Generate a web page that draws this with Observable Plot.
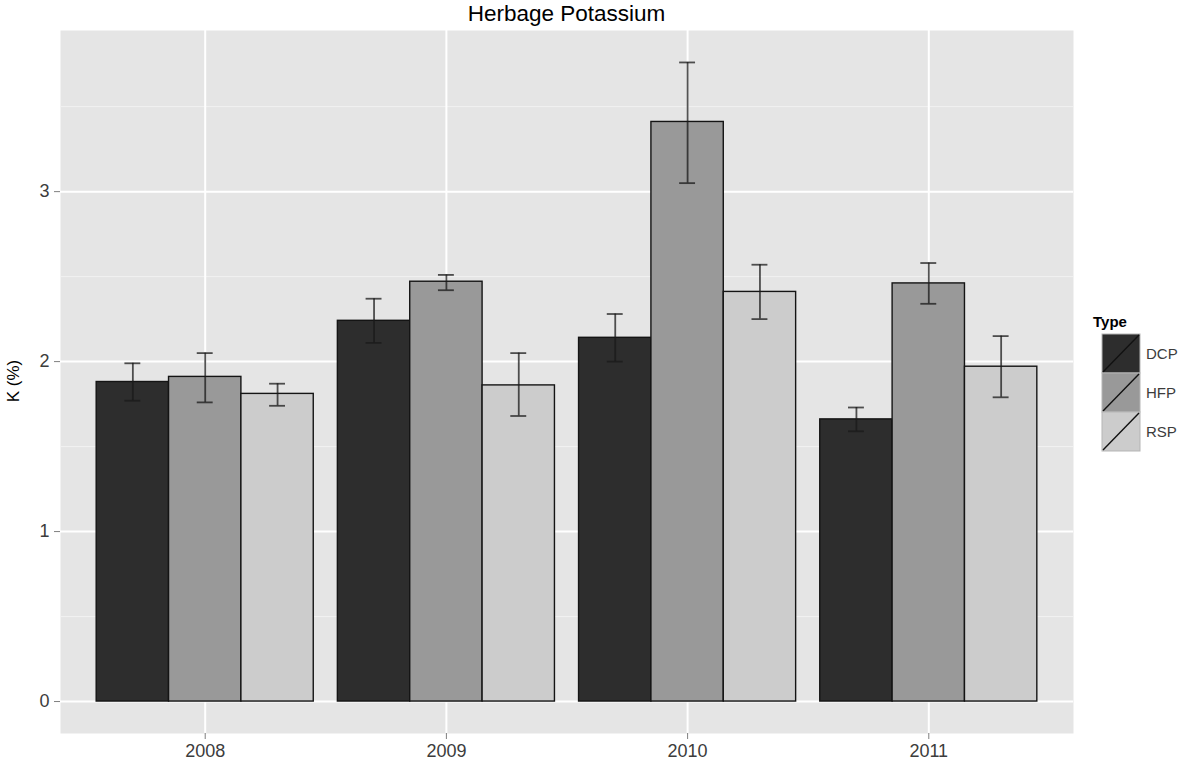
<!DOCTYPE html>
<html>
<head>
<meta charset="utf-8">
<script src="https://cdn.jsdelivr.net/npm/d3@7"></script>
<script src="https://cdn.jsdelivr.net/npm/@observablehq/plot@0.6"></script>
<style>
  body { margin: 0; background: #fff; font-family: "Liberation Sans", Arial, sans-serif; }
  #wrap { position: relative; width: 1188px; height: 769px; }
  #title { position: absolute; left: 60px; width: 1013px; top: 0; height: 30px; text-align: center;
           font-size: 22.5px; line-height: 28px; color: #000; z-index: 2; }
  #ylab { position: absolute; left: 14px; top: 381px; transform: translate(-50%, -50%) rotate(-90deg);
          font-size: 17px; color: #000; white-space: nowrap; z-index: 2; }
  #legend { position: absolute; left: 1088px; top: 305px; z-index: 2; }
  #chart { position: absolute; left: 0; top: 0; }
</style>
</head>
<body>
<div id="wrap">
  <div id="title">Herbage Potassium</div>
  <div id="ylab">K (%)</div>
  <div id="chart"></div>
  <svg id="legend" width="100" height="160"></svg>
</div>
<script>
// Sampling years and pasture types
const years = [2008, 2009, 2010, 2011];
const types = ["DCP", "HFP", "RSP"];

// Mean herbage potassium (%) per year, one array per type
const meanDCP = [1.88, 2.24, 2.14, 1.66];
const meanHFP = [1.91, 2.47, 3.41, 2.46];
const meanRSP = [1.81, 1.86, 2.41, 1.97];

// Error bar limits (lower / upper)
const lowDCP = [1.77, 2.11, 2.00, 1.59];
const highDCP = [1.99, 2.37, 2.28, 1.73];
const lowHFP = [1.76, 2.42, 3.05, 2.34];
const highHFP = [2.05, 2.51, 3.76, 2.58];
const lowRSP = [1.74, 1.68, 2.25, 1.79];
const highRSP = [1.87, 2.05, 2.57, 2.15];

const yTicks = [0, 1, 2, 3];
const yMinor = [0.5, 1.5, 2.5, 3.5];

const fillColors = ["#2d2d2d", "#999999", "#cccccc"];

const series = {
  DCP: {mean: meanDCP, lo: lowDCP, hi: highDCP},
  HFP: {mean: meanHFP, lo: lowHFP, hi: highHFP},
  RSP: {mean: meanRSP, lo: lowRSP, hi: highRSP}
};

// Long table: one row per year × type, with a dodge slot
const rows = years.flatMap((year, i) =>
  types.map((type, slot) => ({
    year, type, slot,
    mean: series[type].mean[i],
    lo: series[type].lo[i],
    hi: series[type].hi[i]
  }))
);

// Dodged positions in year units (bar width 0.3, caps 0.066 wide)
const barW = 0.3;
const center = d => d.year + (d.slot - 1) * barW;
const capHalf = 0.033;

const plot = Plot.plot({
  width: 1188,
  height: 769,
  marginLeft: 60,
  marginRight: 115,
  marginTop: 30,
  marginBottom: 36,
  style: {fontFamily: "Liberation Sans, Arial, sans-serif", background: "transparent"},
  x: {domain: [2007.4, 2011.6], label: null},
  y: {domain: [-0.188, 3.948], label: null},
  color: {domain: types, range: fillColors},
  marks: [
    Plot.frame({fill: "#e5e5e5", stroke: "none"}),
    Plot.ruleY(yMinor, {stroke: "#f2f2f2", strokeWidth: 1}),
    Plot.ruleY(yTicks, {stroke: "#ffffff", strokeWidth: 2}),
    Plot.ruleX(years, {stroke: "#ffffff", strokeWidth: 2}),
    Plot.rect(rows, {
      x1: d => center(d) - barW / 2,
      x2: d => center(d) + barW / 2,
      y1: 0,
      y2: "mean",
      fill: "type",
      stroke: "#141414",
      strokeWidth: 1.4
    }),
    Plot.ruleX(rows, {x: center, y1: "lo", y2: "hi", stroke: "#1a1a1a", strokeOpacity: 0.75, strokeWidth: 1.8}),
    Plot.ruleY(rows, {x1: d => center(d) - capHalf, x2: d => center(d) + capHalf, y: "lo", stroke: "#1a1a1a", strokeOpacity: 0.75, strokeWidth: 1.8}),
    Plot.ruleY(rows, {x1: d => center(d) - capHalf, x2: d => center(d) + capHalf, y: "hi", stroke: "#1a1a1a", strokeOpacity: 0.75, strokeWidth: 1.8}),
    Plot.axisX(years, {
      tickSize: 6, tickPadding: 5, fontSize: 18, stroke: "#7f7f7f",
      fill: "#3c3c3c", tickFormat: d => String(d), label: null
    }),
    Plot.axisY(yTicks, {
      tickSize: 6, tickPadding: 5, fontSize: 18, stroke: "#7f7f7f",
      fill: "#3c3c3c", tickFormat: d => String(d), label: null
    })
  ]
});

document.getElementById("chart").appendChild(plot);

// Legend with slashed keys, coloured from the plot's own scale
const colorScale = plot.scale("color");
const leg = d3.select("#legend");
leg.append("text")
  .attr("x", 5).attr("y", 22)
  .attr("font-size", 15).attr("font-weight", "bold")
  .attr("font-family", "Liberation Sans, Arial, sans-serif")
  .text("Type");
const keyW = 38, keyH = 39, keyX = 14, keyY = 29;
types.forEach((t, i) => {
  const y0 = keyY + i * keyH;
  leg.append("rect")
    .attr("x", keyX).attr("y", y0).attr("width", keyW).attr("height", keyH)
    .attr("fill", colorScale.apply(t)).attr("stroke", "#b5b5b5").attr("stroke-width", 1);
  leg.append("line")
    .attr("x1", keyX + 1).attr("y1", y0 + keyH - 1)
    .attr("x2", keyX + keyW - 1).attr("y2", y0 + 1)
    .attr("stroke", "#111").attr("stroke-width", 1.4);
  leg.append("text")
    .attr("x", keyX + keyW + 6).attr("y", y0 + keyH / 2 + 5)
    .attr("font-size", 15).attr("fill", "#3c3c3c")
    .attr("font-family", "Liberation Sans, Arial, sans-serif")
    .text(t);
});
</script>
</body>
</html>
